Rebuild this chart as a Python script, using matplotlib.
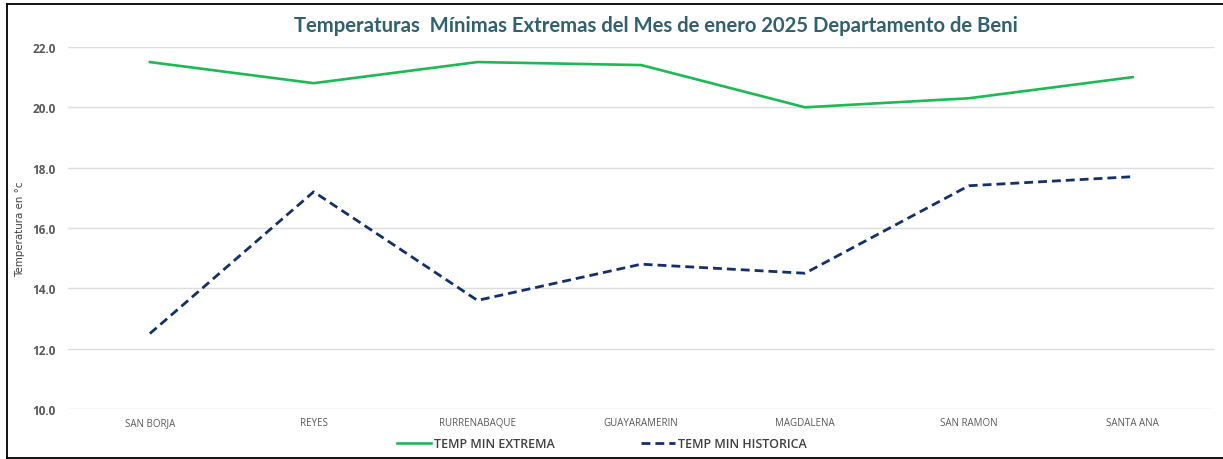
import matplotlib
matplotlib.use("Agg")
import matplotlib.pyplot as plt
from matplotlib.lines import Line2D

stations = ["SAN BORJA", "REYES", "RURRENABAQUE", "GUAYARAMERIN", "MAGDALENA", "SAN RAMON", "SANTA ANA"]
temp_min_extrema = [21.5, 20.8, 21.5, 21.4, 20.0, 20.3, 21.0]
temp_min_historica = [12.5, 17.2, 13.6, 14.8, 14.5, 17.4, 17.7]
y_ticks = [10.0, 12.0, 14.0, 16.0, 18.0, 20.0, 22.0]

title = "Temperaturas  Mínimas Extremas del Mes de enero 2025 Departamento de Beni"
ylabel = "Temperatura en °c"

fig = plt.figure(figsize=(12.23, 4.60), dpi=100)
ax = fig.add_axes([0.0556, 0.1087, 0.9374, 0.787])

x = list(range(len(stations)))
l1, = ax.plot(x, temp_min_extrema, color="#1DB954", lw=1.9, solid_joinstyle="round")
l2, = ax.plot(x, temp_min_historica, color="#14306B", lw=2.0, ls=(0, (3.2, 1.8)))

ax.set_xlim(-0.5, len(stations) - 0.5)
ax.set_ylim(10, 22)
ax.set_yticks(y_ticks)
ax.set_yticklabels([f"{v:.1f}" for v in y_ticks], fontsize=8.5, color="#595959",
                   fontweight="bold", family="Open Sans")
ax.set_xticks(x)
ax.set_xticklabels(stations, fontsize=7, color="#595959", family="Open Sans")
ax.tick_params(axis="both", length=0)
ax.tick_params(axis="y", pad=9)
ax.tick_params(axis="x", pad=6)
ax.grid(axis="y", color="#DDDDDD", lw=1)
ax.set_axisbelow(True)
for s in ax.spines.values():
    s.set_visible(False)

ax.set_ylabel(ylabel, fontsize=7.4, color="#404040",
              family=["Liberation Sans Narrow", "DejaVu Sans"], labelpad=5)

fig.text(0.536, 0.943, title, ha="center", va="center", fontsize=14.6,
         fontweight="bold", color="#2F6170", family="Lato")

leg = fig.legend([l1, l2], ["TEMP MIN EXTREMA", "TEMP MIN HISTORICA"],
                 loc="center", bbox_to_anchor=(0.492, 0.033), ncol=2, frameon=False,
                 handlelength=2.7, columnspacing=6.9, handletextpad=0.25,
                 prop={"family": "Open Sans", "size": 9, "weight": "semibold"})
for t in leg.get_texts():
    t.set_color("#404040")

# figure frame: top, left and bottom edges
x0, x1 = 7 / 1223, 1.0
y0, y1 = 1.5 / 460, 1 - 5 / 460
for xs, ys in [([x0, x1], [y1, y1]), ([x0, x0], [y0, y1]), ([x0, x1], [y0, y0])]:
    fig.add_artist(Line2D(xs, ys, transform=fig.transFigure, color="black", lw=1.3))

fig.savefig("out.png", dpi=100)
